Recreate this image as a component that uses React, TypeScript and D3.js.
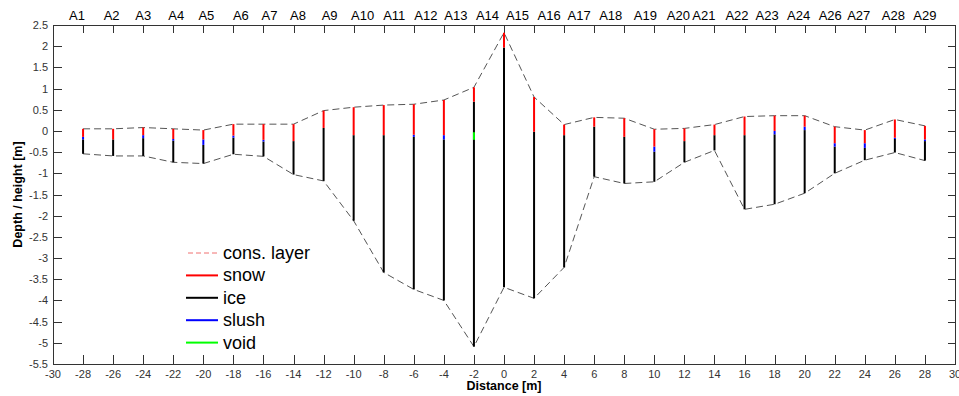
import { useEffect, useRef } from 'react';
import * as d3 from 'd3';

// probe positions along the profile [m]
const distance = [-28, -26, -24, -22, -20, -18, -16, -14, -12, -10, -8, -6, -4, -2, 0, 2, 4, 6, 8, 10, 12, 14, 16, 18, 20, 22, 24, 26, 28];
// surface height [m]
const surface = [0.05, 0.05, 0.08, 0.05, 0.02, 0.16, 0.16, 0.16, 0.48, 0.56, 0.61, 0.63, 0.73, 1.03, 2.32, 0.8, 0.15, 0.32, 0.3, 0.04, 0.06, 0.15, 0.34, 0.36, 0.36, 0.1, 0.02, 0.27, 0.12];
// base of snow layer
const snowBase = [-0.14, -0.2, -0.1, -0.19, -0.2, -0.11, -0.21, -0.24, 0.07, -0.1, -0.1, -0.09, -0.1, 0.69, 1.97, -0.02, -0.1, 0.1, -0.14, -0.37, -0.24, -0.1, -0.1, 0.0, 0.1, -0.29, -0.29, -0.16, -0.2];
// base of slush layer (null = no slush)
const slushBase: (number | null)[] = [-0.2, null, -0.17, -0.23, -0.33, -0.16, -0.25, null, null, null, null, -0.14, -0.2, null, null, null, null, null, null, -0.49, null, null, null, -0.08, 0.02, -0.37, -0.4, -0.19, -0.24];
// bottom of ice / consolidated layer
const bottom = [-0.54, -0.59, -0.59, -0.74, -0.77, -0.55, -0.6, -1.03, -1.18, -2.12, -3.34, -3.74, -4.0, -5.09, -3.69, -3.95, -3.22, -1.08, -1.24, -1.2, -0.74, -0.46, -1.85, -1.73, -1.47, -1.0, -0.69, -0.51, -0.7];
// voids inside the ice
const voids = [{ x: -2, top: -0.03, base: -0.21 }];

const siteNames = ['A1', 'A2', 'A3', 'A4', 'A5', 'A6', 'A7', 'A8', 'A9', 'A10', 'A11', 'A12', 'A13', 'A14', 'A15', 'A16', 'A17', 'A18', 'A19', 'A20', 'A21', 'A22', 'A23', 'A24', 'A26', 'A27', 'A28', 'A29'];
const sitePos = [-28.4, -26.1, -24, -21.8, -19.8, -17.5, -15.6, -13.7, -11.6, -9.4, -7.3, -5.2, -3.2, -1.1, 0.9, 3.0, 5.0, 7.1, 9.4, 11.6, 13.3, 15.5, 17.5, 19.6, 21.7, 23.6, 25.9, 28.0];

const legendItems = [
    { label: 'cons. layer', color: '#f07070', dash: '5,3' },
    { label: 'snow', color: '#ff0000', dash: null },
    { label: 'ice', color: '#000000', dash: null },
    { label: 'slush', color: '#0000ff', dash: null },
    { label: 'void', color: '#00ff00', dash: null },
];

export default function App() {
    const ref = useRef<SVGSVGElement>(null);

    useEffect(() => {
        if (!ref.current) return;
        const svg = d3.select(ref.current);
        svg.selectAll('*').remove();

        const width = 959;
        const height = 396;
        const left = 53, right = 955, top = 25, bot = 364;
        const font = 'Arial, "Liberation Sans", sans-serif';

        const x = d3.scaleLinear().domain([-30, 30]).range([left, right]);
        const y = d3.scaleLinear().domain([-5.5, 2.5]).range([bot, top]);

        svg.attr('width', width).attr('height', height);
        svg.append('rect').attr('width', width).attr('height', height).attr('fill', '#fff');

        const xTicks = d3.range(-30, 31, 2);
        const yTicks = d3.range(-5.5, 2.51, 0.5);

        // ticks, pointing inwards
        const tk = svg.append('g').attr('stroke', '#333').attr('stroke-width', 1);
        xTicks.forEach((t) => {
            const px = Math.round(x(t)) + 0.5;
            tk.append('line').attr('x1', px).attr('x2', px).attr('y1', bot).attr('y2', bot - 9);
            tk.append('line').attr('x1', px).attr('x2', px).attr('y1', top).attr('y2', top + 8);
        });
        yTicks.forEach((t) => {
            const py = Math.round(y(t)) + 0.5;
            tk.append('line').attr('x1', left).attr('x2', left + 9).attr('y1', py).attr('y2', py);
            tk.append('line').attr('x1', right).attr('x2', right - 7).attr('y1', py).attr('y2', py);
        });

        // frame
        svg.append('rect')
            .attr('x', left + 0.5).attr('y', top + 0.5)
            .attr('width', right - left).attr('height', bot - top)
            .attr('fill', 'none').attr('stroke', '#333');

        // tick labels (the last one runs off the right edge, as in the original)
        svg.append('g').selectAll('text').data(xTicks).join('text')
            .attr('x', (d) => x(d)).attr('y', bot + 14)
            .attr('text-anchor', 'middle')
            .attr('font-family', font).attr('font-size', 11).attr('fill', '#333')
            .text((d) => String(d));

        svg.append('g').selectAll('text').data(yTicks).join('text')
            .attr('x', left - 5).attr('y', (d) => y(d) + 4)
            .attr('text-anchor', 'end')
            .attr('font-family', font).attr('font-size', 11).attr('fill', '#333')
            .text((d) => String(d));

        // site names along top
        svg.append('g').selectAll('text').data(siteNames).join('text')
            .attr('x', (_d, i) => x(sitePos[i])).attr('y', 20)
            .attr('text-anchor', 'middle')
            .attr('font-family', font).attr('font-size', 13).attr('fill', '#000')
            .text((d) => d);

        // axis titles
        svg.append('text')
            .attr('x', (left + right) / 2).attr('y', 390)
            .attr('text-anchor', 'middle')
            .attr('font-family', font).attr('font-size', 12.5).attr('font-weight', 'bold')
            .text('Distance [m]');
        svg.append('text')
            .attr('transform', `translate(22, ${(top + bot) / 2}) rotate(-90)`)
            .attr('text-anchor', 'middle')
            .attr('font-family', font).attr('font-size', 12.5).attr('font-weight', 'bold')
            .text('Depth / height [m]');

        // consolidated layer outline
        const line = d3.line<number>().x((_d, i) => x(distance[i])).y((d) => y(d));
        [surface, bottom].forEach((arr) => {
            svg.append('path')
                .attr('d', line(arr) as string)
                .attr('fill', 'none')
                .attr('stroke', '#555')
                .attr('stroke-width', 1)
                .attr('stroke-dasharray', '7,4');
        });

        // columns
        const cols = svg.append('g').attr('stroke-width', 2);
        distance.forEach((d, i) => {
            const px = x(d);
            const slush = slushBase[i];
            const iceTop = slush === null ? snowBase[i] : slush;
            cols.append('line').attr('x1', px).attr('x2', px)
                .attr('y1', y(iceTop)).attr('y2', y(bottom[i])).attr('stroke', '#000');
            if (slush !== null) {
                cols.append('line').attr('x1', px).attr('x2', px)
                    .attr('y1', y(snowBase[i])).attr('y2', y(slush)).attr('stroke', '#0000ff');
            }
            cols.append('line').attr('x1', px).attr('x2', px)
                .attr('y1', y(surface[i])).attr('y2', y(snowBase[i])).attr('stroke', '#ff0000');
        });
        voids.forEach((v) => {
            cols.append('line').attr('x1', x(v.x)).attr('x2', x(v.x))
                .attr('y1', y(v.top)).attr('y2', y(v.base)).attr('stroke', '#00ff00');
        });

        // legend
        const lg = svg.append('g').attr('transform', 'translate(186, 253)');
        legendItems.forEach((item, i) => {
            const row = lg.append('g').attr('transform', `translate(0, ${i * 22.4})`);
            row.append('line')
                .attr('x1', item.dash ? 2 : 0).attr('x2', 32).attr('y1', 0).attr('y2', 0)
                .attr('stroke', item.color).attr('stroke-width', item.dash ? 1 : 2)
                .attr('stroke-dasharray', item.dash ?? null);
            row.append('text')
                .attr('x', 37).attr('y', 6)
                .attr('font-family', font).attr('font-size', 18).attr('fill', '#000')
                .text(item.label);
        });
    }, []);

    return <svg ref={ref} style={{ position: 'absolute', left: 0, top: 0 }} />;
}
